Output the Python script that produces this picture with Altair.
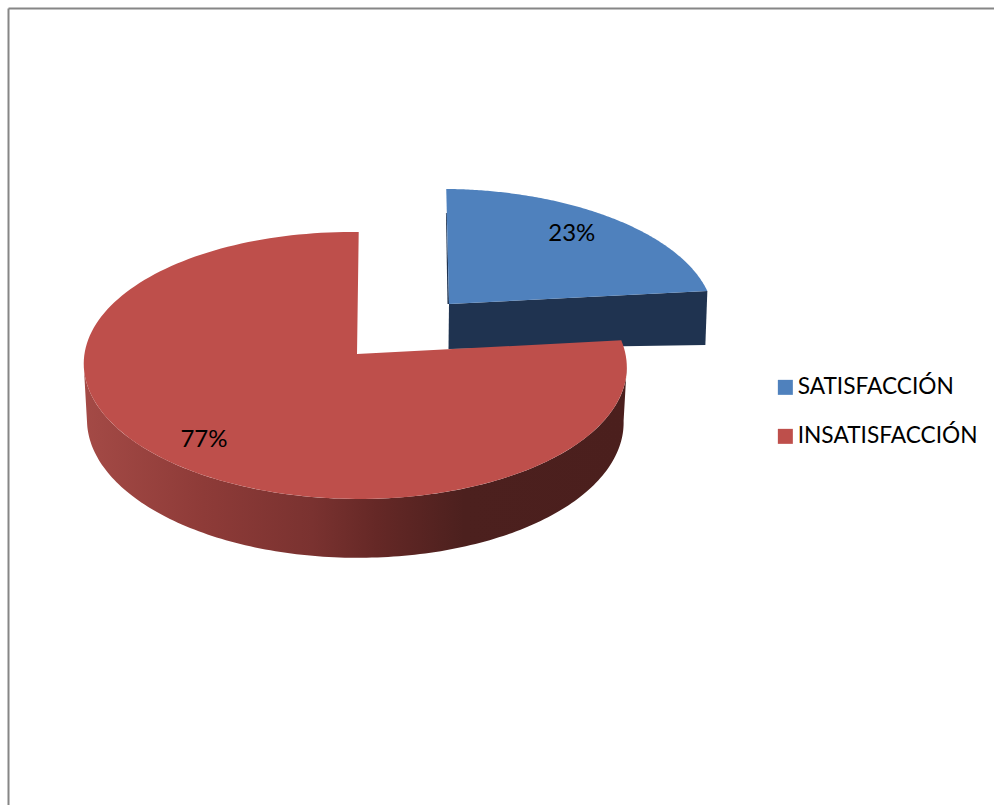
import math
import altair as alt
import pandas as pd

# Survey result and legend entries
CATEGORIES = ["SATISFACCIÓN", "INSATISFACCIÓN"]
SHARES = [23, 77]
COLORS = ["#4F81BD", "#BE4F4B"]

WIDTH, HEIGHT = 994, 805

# Perspective of each tilted disc: apex, radii, depth, label radius and label angle shift
DISCS = {
    "SATISFACCIÓN": dict(cx=449, cy=304, rx=263, ry=125, k=0.086, j=0.0, lean=8.5, depth=(45, 54), label=0.78, shift=-1.8),
    "INSATISFACCIÓN": dict(cx=357, cy=354, rx=270.5, ry=132.5, k=0.086, j=0.0075, lean=3.8, depth=(56, 56), label=0.82, shift=-1.2),
}
SHRINK = 0.012
SPIN = 1.2  # the first slice starts just past twelve o'clock


def project(disc, theta, radius=1.0, z=0.0):
    """Place a disc point, angle clockwise from the top, on the page."""
    u = radius * math.sin(math.radians(theta))
    v = -radius * math.cos(math.radians(theta))
    w = (1 - disc["k"] * v + disc["j"] * u) * (1 + SHRINK * z)
    x = disc["cx"] + (disc["rx"] * u + disc["lean"] * v) / w
    depth = disc["depth"][0] * z
    y = disc["cy"] + (disc["ry"] * v + depth) / w
    return x, y


def rows(name, points):
    return [{"slice": name, "x": x, "y": y, "step": i} for i, (x, y) in enumerate(points)]


def sweep(start, end, steps=160):
    return [start + (end - start) * i / steps for i in range(steps + 1)]


blue, red = DISCS[CATEGORIES[0]], DISCS[CATEGORIES[1]]
blue_start = SPIN
blue_end = SPIN + SHARES[0] * 3.6
red_end = blue_end + SHARES[1] * 3.6

# Flat tops of both slices
top_rows = rows(CATEGORIES[0], [project(blue, 0, 0)] + [project(blue, t) for t in sweep(blue_start, blue_end)])
top_rows += rows(CATEGORIES[1], [project(red, 0, 0)] + [project(red, t) for t in sweep(blue_end, red_end)])
tops = pd.DataFrame(top_rows)

# Cut face of the pulled-out slice
apex_x, apex_y = project(blue, 0, 0)
rim_x, rim_y = project(blue, blue_end)
cut_face = pd.DataFrame(rows("cut", [
    (apex_x, apex_y),
    (rim_x, rim_y),
    (rim_x - 2, rim_y + blue["depth"][1]),
    (apex_x - 0.5, apex_y + blue["depth"][0]),
]))

# Thin dark sliver along the back edge of the pulled-out slice
back_x, back_y = project(blue, blue_start)
sliver = pd.DataFrame(rows("sliver", [
    (back_x + 0.5, back_y + 24),
    (apex_x, apex_y),
    (apex_x - 1.5, apex_y),
    (back_x - 0.3, back_y + 24),
]))

# Curved outer wall of the large slice, between the two tangent points of the cylinder
front = sweep(95, 265)
wall = pd.DataFrame(rows("wall", [project(red, t) for t in front]
                         + [project(red, t, z=1) for t in reversed(front)]))

label_rows = []
for name, share, mid in zip(CATEGORIES, SHARES, [blue_start + SHARES[0] * 1.8, blue_end + SHARES[1] * 1.8]):
    disc = DISCS[name]
    lx, ly = project(disc, mid + disc["shift"], disc["label"])
    label_rows.append({"text": f"{share}%", "x": lx, "y": ly})
labels = pd.DataFrame(label_rows)

frame = pd.DataFrame([
    {"x": 8.5, "y": 8.5, "x2": 994, "y2": 8.5},
    {"x": 8.5, "y": 8.5, "x2": 8.5, "y2": 805},
])

x_enc = alt.X("x:Q", scale=alt.Scale(domain=[0, WIDTH], nice=False, zero=False), axis=None)
y_enc = alt.Y("y:Q", scale=alt.Scale(domain=[HEIGHT, 0], nice=False, zero=False), axis=None)


def shape(data, fill):
    return alt.Chart(data).mark_line(fill=fill, strokeWidth=0, stroke="transparent").encode(
        x=x_enc, y=y_enc, order="step:Q"
    )


wall_fill = alt.Gradient(
    gradient="linear", x1=0, x2=1, y1=0, y2=0,
    stops=[
        alt.GradientStop(color="#A44A46", offset=0),
        alt.GradientStop(color="#8E3B38", offset=0.22),
        alt.GradientStop(color="#7A3230", offset=0.42),
        alt.GradientStop(color="#652826", offset=0.54),
        alt.GradientStop(color="#4C201E", offset=0.70),
        alt.GradientStop(color="#4B1F1D", offset=1),
    ],
)

border = alt.Chart(frame).mark_rule(color="#868686", strokeWidth=2).encode(
    x=x_enc, y=y_enc, x2="x2:Q", y2="y2:Q"
)

top_faces = alt.Chart(tops).mark_line(filled=True, strokeWidth=0).encode(
    x=x_enc,
    y=y_enc,
    order="step:Q",
    color=alt.Color(
        "slice:N",
        scale=alt.Scale(domain=CATEGORIES, range=COLORS),
        sort=CATEGORIES,
        legend=alt.Legend(
            title=None,
            orient="none",
            legendX=774,
            legendY=376,
            padding=0,
            symbolType="square",
            symbolSize=225,
            symbolStrokeWidth=0,
            labelFont="Lato",
            labelFontSize=22.7,
            labelColor="#000000",
            labelOffset=1,
            labelLimit=300,
            rowPadding=25,
        ),
    ),
)

value_labels = alt.Chart(labels).mark_text(font="Lato", fontSize=24, color="#000000", baseline="middle").encode(
    x=x_enc, y=y_enc, text="text:N"
)

chart = alt.layer(
    border,
    shape(sliver, "#1F3350"),
    shape(cut_face, "#1F3350"),
    shape(wall, wall_fill),
    top_faces,
    value_labels,
).properties(
    width=WIDTH,
    height=HEIGHT,
    padding=0,
    autosize=alt.AutoSizeParams(type="none"),
    background="#FFFFFF",
).configure_view(stroke=None)

chart.save("out.html", embed_options={"renderer": "svg", "actions": False})
